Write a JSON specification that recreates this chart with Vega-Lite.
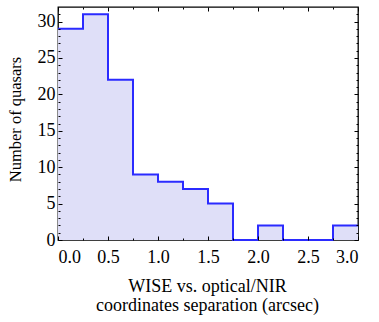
{
  "$schema": "https://vega.github.io/schema/vega-lite/v6.json",
  "width": 300,
  "height": 233,
  "autosize": "none",
  "padding": {"left": 58, "top": 7, "right": 21, "bottom": 82},
  "background": "white",
  "config": {
    "view": {"stroke": "black", "strokeWidth": 1.3},
    "font": "Liberation Serif",
    "axis": {
      "domain": false,
      "grid": false,
      "ticks": true,
      "tickColor": "black",
      "tickOpacity": 1,
      "tickWidth": 1,
      "labelColor": "black",
      "titleColor": "black",
      "labelFont": "Liberation Serif",
      "titleFont": "Liberation Serif",
      "titleFontWeight": "normal"
    }
  },
  "data": {"values": [
    {"x": 0.0, "count": 29},
    {"x": 0.25, "count": 31},
    {"x": 0.5, "count": 22},
    {"x": 0.75, "count": 9},
    {"x": 1.0, "count": 8},
    {"x": 1.25, "count": 7},
    {"x": 1.5, "count": 5},
    {"x": 1.75, "count": 0},
    {"x": 2.0, "count": 2},
    {"x": 2.25, "count": 0},
    {"x": 2.5, "count": 0},
    {"x": 2.75, "count": 2},
    {"x": 3.0, "count": 2}
  ]},
  "layer": [
    {
      "mark": {"type": "area", "interpolate": "step-after", "fill": "#dfdff8"},
      "encoding": {
        "x": {"field": "x", "type": "quantitative", "scale": {"domain": [0, 3], "nice": false, "zero": false},
          "axis": {"orient": "bottom", "values": [0, 0.25, 0.5, 0.75, 1, 1.25, 1.5, 1.75, 2, 2.25, 2.5, 2.75, 3],
            "labelExpr": "(datum.value * 2) % 1 === 0 ? format(datum.value, '.1f') : ''",
            "tickSize": {"condition": {"test": "(datum.value * 2) % 1 === 0", "value": -4}, "value": -2},
            "zindex": 1, "labelPadding": 12, "labelFontSize": 18, "labelFont": "Liberation Serif",
            "title": ["WISE vs. optical/NIR", "coordinates separation (arcsec)"], "titleFont": "Liberation Serif", "titleFontSize": 18, "titleLineHeight": 19, "titleBaseline": "top", "titleAlign": "center", "titleY": 37, "titleX": 149}},
        "y": {"field": "count", "type": "quantitative", "scale": {"domain": [0, 32], "nice": false},
          "axis": {"orient": "left", "values": [0,1,2,3,4,5,6,7,8,9,10,11,12,13,14,15,16,17,18,19,20,21,22,23,24,25,26,27,28,29,30,31],
            "labelExpr": "datum.value % 5 === 0 ? datum.label : ''",
            "tickSize": {"condition": {"test": "datum.value % 5 === 0", "value": -4}, "value": -2},
            "zindex": 1, "labelPadding": 7, "labelFontSize": 18, "labelFont": "Liberation Serif",
            "title": "Number of quasars", "titleFont": "Liberation Serif", "titleFontSize": 16.5, "titleAngle": -90, "titleAlign": "center", "titleBaseline": "middle", "titleX": -43, "titleY": 112}}
      }
    },
    {
      "mark": {"type": "line", "interpolate": "step-after", "stroke": "#2b2bff", "strokeWidth": 2},
      "encoding": {
        "x": {"field": "x", "type": "quantitative", "axis": {"orient": "top", "values": [0, 0.25, 0.5, 0.75, 1, 1.25, 1.5, 1.75, 2, 2.25, 2.5, 2.75, 3],
          "tickSize": {"condition": {"test": "(datum.value * 2) % 1 === 0", "value": -4}, "value": -2},
          "zindex": 1, "labels": false, "title": null}},
        "y": {"field": "count", "type": "quantitative", "axis": {"orient": "right", "values": [0,1,2,3,4,5,6,7,8,9,10,11,12,13,14,15,16,17,18,19,20,21,22,23,24,25,26,27,28,29,30,31],
          "tickSize": {"condition": {"test": "datum.value % 5 === 0", "value": -4}, "value": -2},
          "zindex": 1, "labels": false, "title": null}}
      }
    }
  ],
  "resolve": {"axis": {"x": "independent", "y": "independent"}}
}
